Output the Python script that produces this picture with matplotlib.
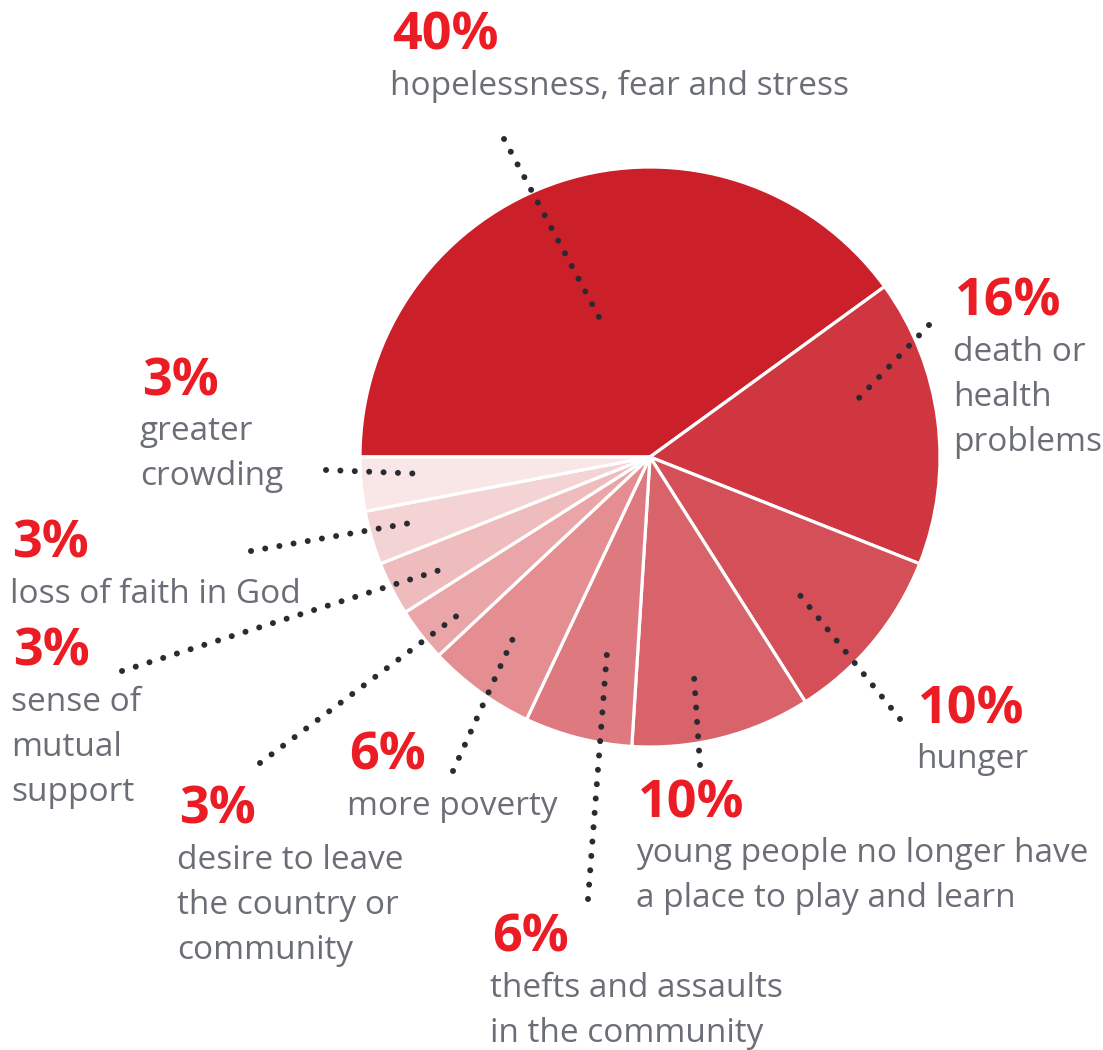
import numpy as np
import matplotlib.pyplot as plt

plt.rcParams['font.family'] = ['Open Sans', 'DejaVu Sans']

# Share of respondents per reported effect
labels = [
    "hopelessness, fear and stress",
    "death or\nhealth\nproblems",
    "hunger",
    "young people no longer have\na place to play and learn",
    "thefts and assaults\nin the community",
    "more poverty",
    "desire to leave\nthe country or\ncommunity",
    "sense of\nmutual\nsupport",
    "loss of faith in God",
    "greater\ncrowding",
]
values = [40, 16, 10, 10, 6, 6, 3, 3, 3, 3]
colors = ["#CB2029", "#D0363F", "#D44F57", "#D9636A", "#DE7980",
          "#E48E92", "#E9A5A7", "#EEBCBD", "#F3D3D3", "#F9E6E6"]

W, H = 1103, 1050
RED = "#EC1C24"
GREY = "#6B6E76"
DOT = "#2A2A33"

# label anchor: (x, baseline of the percentage) in pixel space from top-left
label_pos = [(391, 50), (954, 316), (917, 723), (637, 817), (491, 952),
             (348, 770), (178, 824), (12, 666), (11, 558), (141, 395)]
# leader lines: outer end, inner end
leaders = [((504, 139), (600, 319)), ((929, 325), (857, 400)),
           ((900, 719), (799, 594)), ((700, 765), (694, 676)),
           ((588, 899), (607, 652)), ((453, 771), (515, 634)),
           ((260, 763), (466, 609)), ((122, 671), (440, 570)),
           ((251, 551), (416, 522)), ((326, 470), (426, 474))]

fig = plt.figure(figsize=(W / 100, H / 100), dpi=100)
ax = fig.add_axes([0, 0, 1, 1])
ax.set_xlim(0, W)
ax.set_ylim(0, H)
ax.set_aspect('equal')
ax.axis('off')

def fy(y):
    return H - y

ax.pie(values, colors=colors, startangle=180, counterclock=False,
       center=(650, fy(457)), radius=290,
       wedgeprops=dict(edgecolor='white', linewidth=2.3))
ax.set_xlim(0, W)
ax.set_ylim(0, H)

for (x0, y0), (x1, y1) in leaders:
    ax.plot([x0, x1], [fy(y0), fy(y1)], color=DOT, lw=4.3,
            linestyle=(0, (0.01, 2.4)), dash_capstyle='round', zorder=5)

for v, lab, (x, yb) in zip(values, labels, label_pos):
    ax.text(x + 1, fy(yb), f"{v}%", color=RED, fontsize=37.5, fontweight='bold',
            va='baseline', ha='left')
    for i, line in enumerate(lab.split("\n")):
        ax.text(x - 1, fy(yb + 45 + i * 45), line, color=GREY, fontsize=24,
                va='baseline', ha='left')

fig.savefig("out.png", dpi=100)
